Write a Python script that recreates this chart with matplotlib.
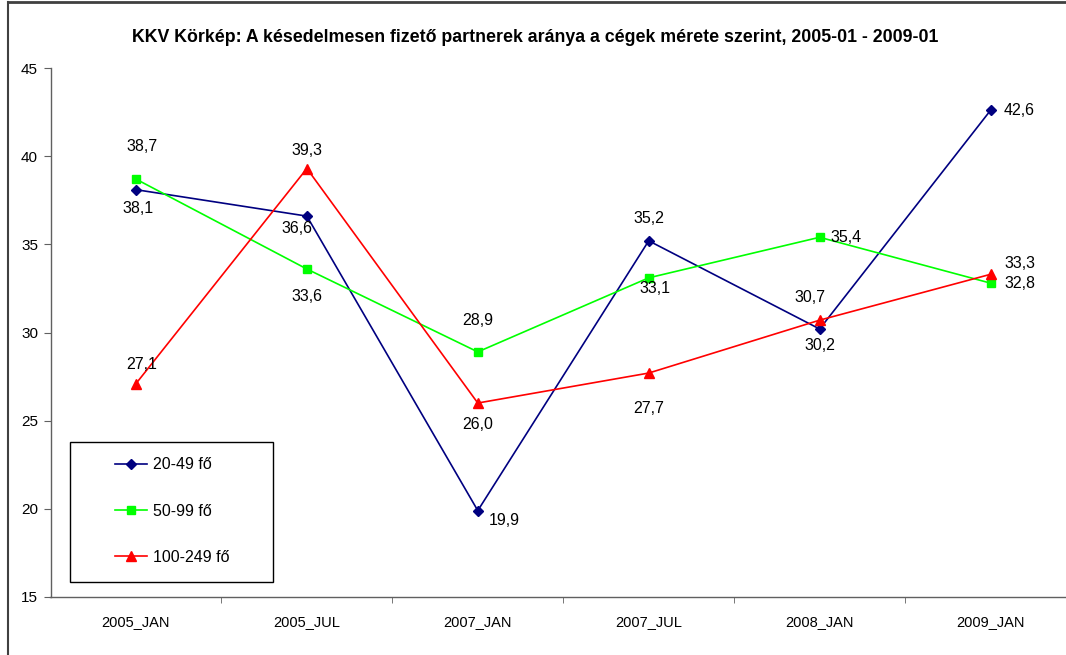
import matplotlib.pyplot as plt
from matplotlib.lines import Line2D
from matplotlib.patches import Rectangle

plt.rcParams['font.family'] = ['Liberation Sans', 'DejaVu Sans']

categories = ['2005_JAN', '2005_JUL', '2007_JAN', '2007_JUL', '2008_JAN', '2009_JAN']
s_20_49 = [38.1, 36.6, 19.9, 35.2, 30.2, 42.6]
s_50_99 = [38.7, 33.6, 28.9, 33.1, 35.4, 32.8]
s_100_249 = [27.1, 39.3, 26.0, 27.7, 30.7, 33.3]
names = ['20-49 fő', '50-99 fő', '100-249 fő']

# label offsets in pixels (dx, dy), Excel-style placement
off_20_49 = [(2, -19), (-10, -12), (26, -10), (0, 22), (0, -17), (29, 0)]
off_50_99 = [(6, 33), (0, -27), (0, 31), (6, -11), (26, 0), (29, 0)]
off_100_249 = [(6, 19), (0, 18), (0, -21), (0, -35), (-10, 23), (29, 11)]

W, H = 1066, 655
fig = plt.figure(figsize=(W / 100, H / 100), dpi=100)
ax = fig.add_axes([50.5 / W, 58 / H, (1076 - 50.5) / W, 529 / H])

x = list(range(len(categories)))
series = [
    (s_20_49, off_20_49, '#000080', 'D', 5),
    (s_50_99, off_50_99, '#00FF00', 's', 6),
    (s_100_249, off_100_249, '#FF0000', '^', 7),
]
for (vals, offs, col, mk, ms), name in zip(series, names):
    ax.plot(x, vals, color=col, marker=mk, markersize=ms, lw=1.2, label=name,
            markeredgecolor=col, clip_on=False)
    for xi, v, (dx, dy) in zip(x, vals, offs):
        ax.annotate(f'{v:.1f}'.replace('.', ','), (xi, v), xytext=(dx, dy),
                    textcoords='offset pixels', ha='center', va='center',
                    fontsize=11.5, color='black')

ax.set_xlim(-0.5, 5.5)
ax.set_ylim(15, 45)
ax.set_yticks(range(15, 46, 5))
ax.set_xticks(x, categories)
ax.set_xticks([i + 0.5 for i in x[:-1]], minor=True)
ax.tick_params(axis='x', which='major', length=0, pad=13, labelsize=10.5)
ax.tick_params(axis='x', which='minor', length=4, direction='out', color='#606060')
ax.tick_params(axis='y', length=5, direction='out', color='#606060', labelsize=11, pad=4)
for s in ['top', 'right']:
    ax.spines[s].set_visible(False)
for s in ['left', 'bottom']:
    ax.spines[s].set_color('#606060')
    ax.spines[s].set_linewidth(1)

fig.text(535 / W, 1 - 38 / H, 'KKV Körkép: A késedelmesen fizető partnerek aránya a cégek mérete szerint, 2005-01 - 2009-01',
         ha='center', va='center', fontsize=12.8, fontweight='bold')

# legend box
fig.add_artist(Rectangle((70 / W, 1 - 582 / H), 203 / W, 140 / H, transform=fig.transFigure,
                         facecolor='white', edgecolor='black', lw=1, zorder=5))
leg = fig.legend(loc='center', bbox_to_anchor=(172 / W, 1 - 511 / H), frameon=False,
                 fontsize=11.5, labelspacing=1.95, handlelength=2.0, handletextpad=0.35,
                 markerscale=1.0)
leg.set_zorder(6)

# chart border
fig.add_artist(Line2D([8 / W, 8 / W], [0, 1 - 2 / H], transform=fig.transFigure, color='#404040', lw=1.5))
fig.add_artist(Line2D([8 / W, 1], [1 - 2 / H, 1 - 2 / H], transform=fig.transFigure, color='#404040', lw=2))

fig.savefig('out.png', dpi=100)
